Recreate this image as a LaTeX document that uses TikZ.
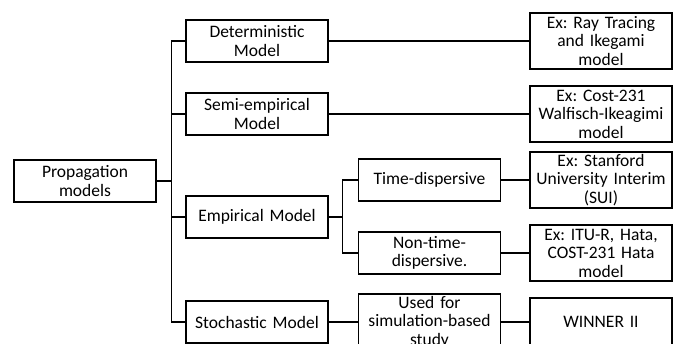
\documentclass[tikz,border=0pt]{standalone}
\usepackage{fontspec}
\setmainfont{Carlito}
\frenchspacing
\begin{document}
\begin{tikzpicture}[x=1pt,y=-1pt,
  box/.style={draw, line width=1.3pt, text width=138pt, align=center, inner sep=2pt, minimum height=42pt, font=\fontsize{17.5}{18.5}\selectfont},
  tall/.style={box, minimum height=56pt},
  link/.style={line width=1.3pt}]
  \useasboundingbox (0,0) rectangle (681,344);

  \node[box] (P) at (85,181) {Propagation\\models};

  \node[box] (M1) at (257,41) {Deterministic\\Model};
  \node[box] (M2) at (257,114) {Semi-empirical\\Model};
  \node[box] (M3) at (257,217) {Empirical Model};
  \node[box] (M4) at (257,322) {Stochastic Model};

  \node[box] (S1) at (429.5,180) {Time-dispersive};
  \node[box] (S2) at (429.5,253) {Non-time-\\dispersive.};
  \node[tall] (S3) at (429.5,322) {Used for\\simulation-based\\study};

  \node[tall] (E1) at (601,41) {Ex: Ray Tracing\\and Ikegami\\model};
  \node[tall] (E2) at (601,114) {Ex: Cost-231\\Walfisch-Ikeagimi\\model};
  \node[tall] (E3) at (601,180) {Ex: Stanford\\University Interim\\(SUI)};
  \node[tall] (E4) at (601,253) {Ex: ITU-R, Hata,\\COST-231 Hata\\model};
  \node[box, minimum height=48pt] (E5) at (601,322) {WINNER II};

  \foreach \m in {M1,M2,M3,M4}
    \draw[link] (P.east) -- ++(15,0) |- (\m.west);
  \foreach \s in {S1,S2}
    \draw[link] (M3.east) -- ++(14,0) |- (\s.west);

  \draw[link] (M1.east) -- (E1.west);
  \draw[link] (M2.east) -- (E2.west);
  \draw[link] (S1.east) -- (E3.west);
  \draw[link] (S2.east) -- (E4.west);
  \draw[link] (M4.east) -- (S3.west);
  \draw[link] (S3.east) -- (E5.west);
\end{tikzpicture}
\end{document}
